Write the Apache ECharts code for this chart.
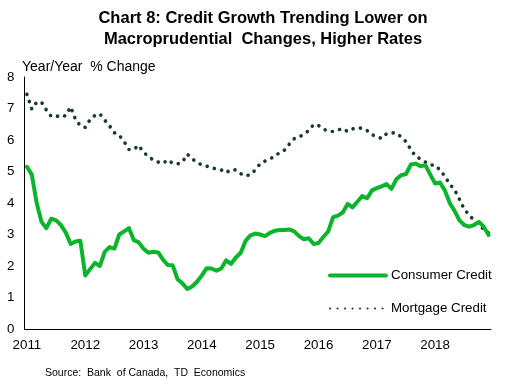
<!DOCTYPE html>
<html>
<head>
<meta charset="utf-8">
<script src="https://cdn.jsdelivr.net/npm/echarts@6/dist/echarts.min.js"></script>
<style>
html,body{margin:0;padding:0;background:#fff;}
#c{width:516px;height:385px;}
</style>
</head>
<body>
<div id="c"></div>
<script>
const yearLabels = ['2011','2012','2013','2014','2015','2016','2017','2018'];
const consumerCredit = [
 5.15,4.9,4.0,3.4,3.2,3.5,3.45,3.3,3.06,2.7,2.78,2.8,
 1.7,1.9,2.1,2.0,2.45,2.6,2.55,3.0,3.1,3.2,2.82,2.75,
 2.55,2.42,2.45,2.43,2.2,2.03,2.02,1.58,1.45,1.27,1.35,1.5,
 1.7,1.93,1.92,1.85,1.92,2.18,2.07,2.27,2.42,2.8,2.97,3.03,
 3.0,2.95,3.05,3.12,3.14,3.14,3.16,3.1,2.95,2.85,2.88,2.7,
 2.73,2.92,3.1,3.55,3.6,3.7,3.97,3.86,4.04,4.22,4.15,4.4,
 4.47,4.53,4.6,4.45,4.75,4.88,4.92,5.22,5.25,5.17,5.2,4.9,
 4.62,4.65,4.4,4.0,3.75,3.45,3.3,3.25,3.3,3.4,3.25,2.98
];
const mortgageCredit = [
 7.45,6.98,7.2,7.2,6.95,6.75,6.77,6.72,6.78,7.05,6.65,6.45,
 6.4,6.65,6.78,6.83,6.63,6.45,6.23,6.15,5.95,5.7,5.7,5.83,
 5.6,5.49,5.36,5.3,5.26,5.37,5.26,5.24,5.3,5.55,5.4,5.3,
 5.2,5.17,5.12,5.08,5.05,4.96,5.06,5.05,4.93,4.86,4.9,5.05,
 5.25,5.33,5.4,5.48,5.6,5.68,5.87,6.04,6.1,6.18,6.3,6.49,
 6.46,6.35,6.28,6.27,6.32,6.36,6.27,6.35,6.39,6.37,6.3,6.17,
 6.1,6.05,6.2,6.23,6.22,6.1,5.95,5.7,5.48,5.4,5.3,5.21,
 5.2,5.05,4.85,4.6,4.42,4.12,3.8,3.62,3.45,3.3,3.17,3.05
];
const months = [];
yearLabels.forEach(y => { for (let m = 1; m <= 12; m++) months.push(y + '-' + (m < 10 ? '0' + m : m)); });

const FONT = '"Liberation Sans", Arial, sans-serif';
const FS = 13.33;
const chart = echarts.init(document.getElementById('c'), null, {renderer: 'canvas'});
chart.setOption({
  animation: false,
  backgroundColor: '#fff',
  textStyle: {fontFamily: FONT},
  title: {
    text: 'Chart 8: Credit Growth Trending Lower on\nMacroprudential  Changes, Higher Rates',
    left: 258, top: 3, textAlign: 'center',
    textStyle: {fontFamily: FONT, fontSize: 16.5, fontWeight: 'bold', color: '#000', lineHeight: 21, align: 'center'}
  },
  graphic: [
    {type: 'text', left: 22, top: 60, style: {text: 'Year/Year  % Change', font: '14px ' + FONT, fill: '#000'}},
    {type: 'text', left: 45, top: 368, style: {text: 'Source:  Bank  of Canada,  TD  Economics', font: '10.5px ' + FONT, fill: '#000'}}
  ],
  legend: {
    orient: 'vertical', left: 328, top: 269, padding: 0,
    itemWidth: 56, itemHeight: 14, itemGap: 20,
    itemStyle: {opacity: 0},
    textStyle: {fontFamily: FONT, fontSize: FS, color: '#000'},
    data: [
      {name: 'Consumer Credit', lineStyle: {width: 4}},
      {name: 'Mortgage Credit'}
    ]
  },
  grid: {left: 24.5, right: 25, top: 77, bottom: 56, containLabel: false},
  xAxis: {
    type: 'category', data: months, boundaryGap: true,
    axisLine: {lineStyle: {color: '#000', width: 1}},
    axisTick: {show: false},
    axisLabel: {
      interval: (i) => i % 12 === 0,
      formatter: (v) => v.slice(0, 4),
      color: '#000', fontSize: FS, fontFamily: FONT, margin: 10
    },
    splitLine: {show: false}
  },
  yAxis: {
    type: 'value', min: 0, max: 8, interval: 1,
    axisLine: {show: true, lineStyle: {color: '#000', width: 1}},
    axisTick: {show: false},
    axisLabel: {color: '#000', fontSize: FS, fontFamily: FONT, margin: 10},
    splitLine: {show: false}
  },
  series: [
    {
      name: 'Consumer Credit', type: 'line', data: consumerCredit,
      symbol: 'none', smooth: false,
      lineStyle: {color: '#0ab52b', width: 4, join: 'round', cap: 'round'},
      itemStyle: {color: '#0ab52b'}, z: 3
    },
    {
      name: 'Mortgage Credit', type: 'line', data: mortgageCredit,
      symbol: 'none', smooth: false,
      lineStyle: {color: '#173d26', width: 3.6, type: [0.1, 7.4], cap: 'round'},
      itemStyle: {color: '#173d26'}, z: 2
    }
  ]
});
</script>
</body>
</html>
